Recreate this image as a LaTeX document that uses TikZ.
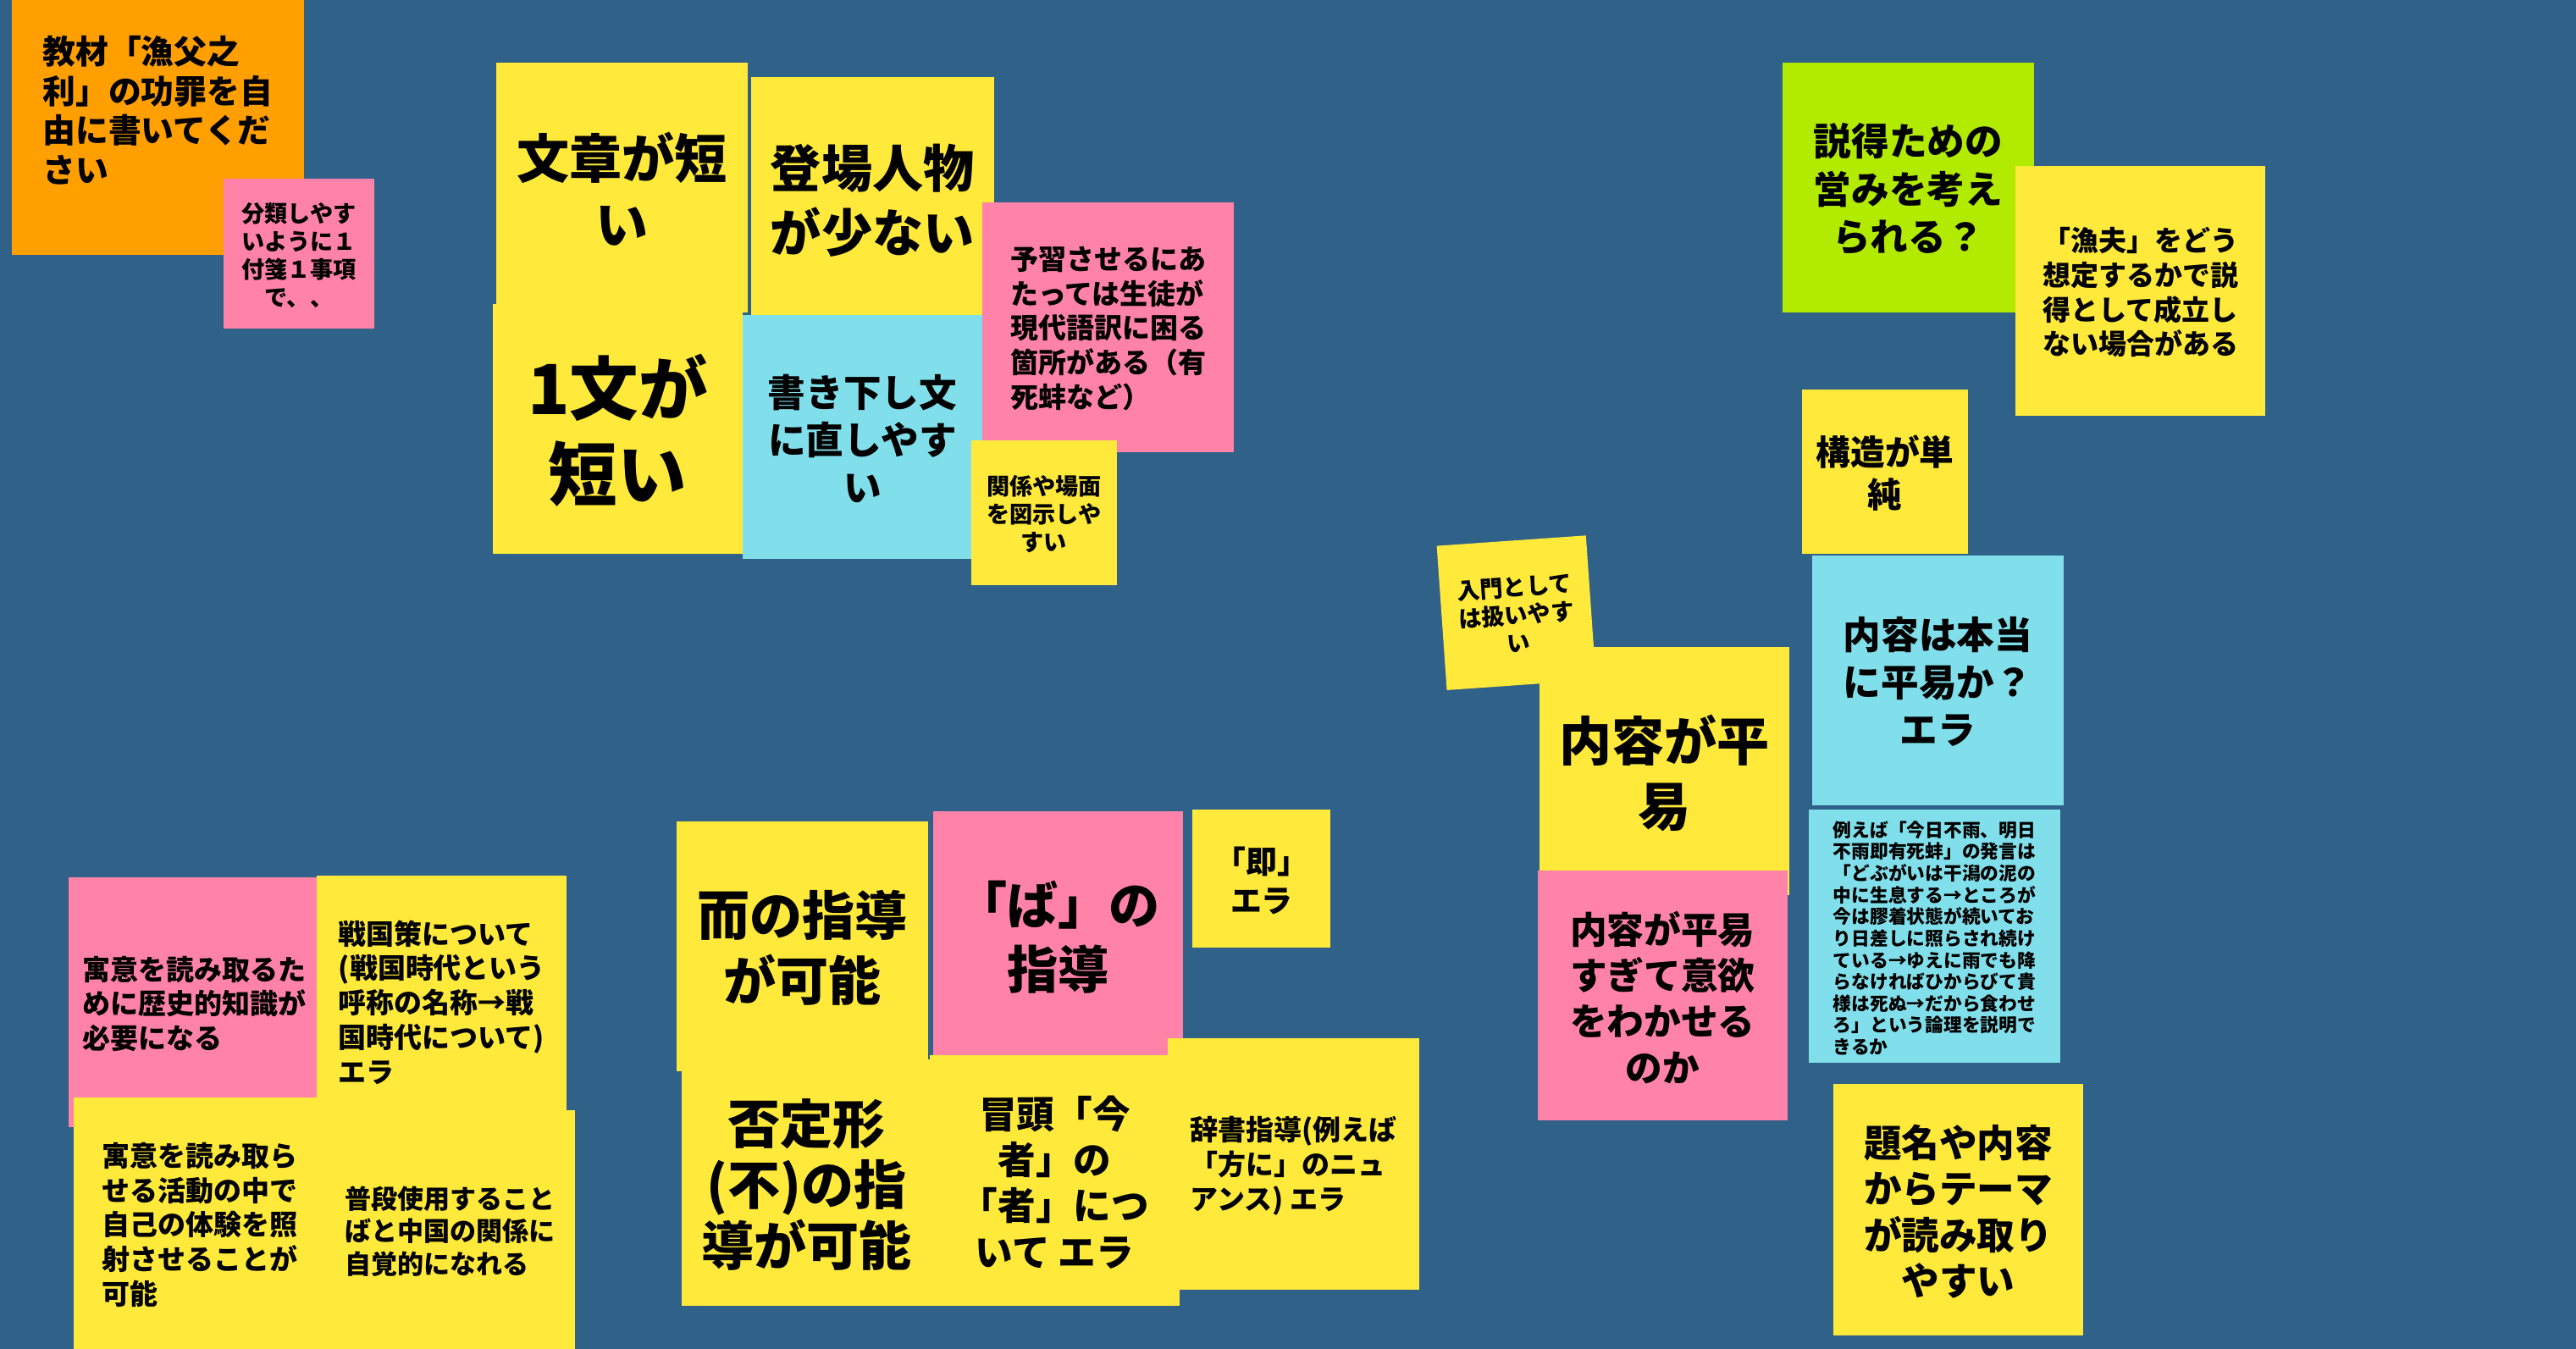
\documentclass[tikz,border=0pt]{standalone}
\usepackage{fontspec}
\setmainfont{Noto Sans CJK JP}
\usetikzlibrary{fit}
\definecolor{board}{HTML}{2F6189}
\definecolor{noteyellow}{HTML}{FFE93B}
\definecolor{notepink}{HTML}{FF82A9}
\definecolor{notecyan}{HTML}{80DFEA}
\definecolor{noteorange}{HTML}{FF9F00}
\definecolor{notegreen}{HTML}{B2EB00}
\newcommand\sz[2]{\fontsize{#1}{#2}\selectfont\bfseries}
% \note{name}{corners}{colour}{font}{align}{text}
\newcommand\note[6]{%
  \node[sticky={#2},fill=#3] (#1) {};
  \node[notetext,font=#4,align=#5] (#1-t) at (#1) {#6};}

\begin{document}
\begin{tikzpicture}[x=1pt,y=-1pt,
  sticky/.style={fit={#1},inner sep=0pt},
  notetext/.style={inner sep=0pt,text=black,yshift=-1pt}]
\fill[board] (0,0) rectangle (1568,821);
\useasboundingbox (0,0) rectangle (1568,821);
% top left
\note{task}{(7,0) (185,155)}{noteorange}{\sz{20}{24}}{left}{教材「漁父之\\利」の功罪を自\\由に書いてくだ\\さい\\\mbox{}}
\note{rule}{(136,109) (228,200)}{notepink}{\sz{14}{17}}{center}{分類しやす\\いように１\\付箋１事項\\で、、}
% short sentences
\note{short}{(302,38) (455,190)}{noteyellow}{\sz{32}{40}}{center}{文章が短\\い}
\note{few}{(457,47) (605,195)}{noteyellow}{\sz{31}{39}}{center}{登場人物\\が少ない}
\note{onesent}{(300,185) (452,337)}{noteyellow}{\sz{42}{52}}{center}{1文が\\短い}
\note{kaki}{(452,192) (598,340)}{notecyan}{\sz{23}{29}}{center}{書き下し文\\に直しやす\\い}
\note{yoshu}{(598,123) (751,275)}{notepink}{\sz{17}{21}}{left}{予習させるにあ\\たっては生徒が\\現代語訳に困る\\箇所がある（有\\死蚌など）}
\note{zushi}{(591,268) (680,356)}{noteyellow}{\sz{14}{17}}{center}{関係や場面\\を図示しや\\すい}
% right column
\note{settoku}{(1085,38) (1238,190)}{notegreen}{\sz{23}{29}}{center}{説得ための\\営みを考え\\られる？}
\note{gyofu}{(1227,101) (1379,253)}{noteyellow}{\sz{17}{21}}{center}{「漁夫」をどう\\想定するかで説\\得として成立し\\ない場合がある}
\note{kozo}{(1097,237) (1198,337)}{noteyellow}{\sz{21}{26}}{center}{構造が単\\純}
\node[fill=noteyellow,minimum width=91pt,minimum height=88pt,inner sep=0pt,rotate=4] at (923,373) (nyumon) {};
\node[notetext,font=\sz{14}{17},align=center,rotate=4] at (nyumon) (nyumon-t) {入門として\\は扱いやす\\い};
\note{honto}{(1103,338) (1256,490)}{notecyan}{\sz{23}{29}}{center}{内容は本当\\に平易か？\\エラ}
\note{heii}{(937,394) (1089,545)}{noteyellow}{\sz{32}{40}}{center}{内容が平\\易}
\note{rei}{(1101,493) (1254,647)}{notecyan}{\sz{11.2}{13.2}}{left}{例えば「今日不雨、明日\\不雨即有死蚌」の発言は\\「どぶがいは干潟の泥の\\中に生息する→ところが\\今は膠着状態が続いてお\\り日差しに照らされ続け\\ている→ゆえに雨でも降\\らなければひからびて貴\\様は死ぬ→だから食わせ\\ろ」という論理を説明で\\きるか}
\note{iyoku}{(936,530) (1088,682)}{notepink}{\sz{22.5}{28}}{center}{内容が平易\\すぎて意欲\\をわかせる\\のか}
\note{theme}{(1116,660) (1268,813)}{noteyellow}{\sz{23}{28}}{center}{題名や内容\\からテーマ\\が読み取り\\やすい}
% grammar
\note{soku}{(726,493) (810,577)}{noteyellow}{\sz{19}{24}}{center}{「即」\\エラ}
\note{ji}{(412,500) (565,652)}{noteyellow}{\sz{32}{40}}{center}{而の指導\\が可能}
\note{ba}{(568,494) (720,645)}{notepink}{\sz{31}{39}}{center}{「ば」の\\指導}
\note{hitei}{(415,645) (567,795)}{noteyellow}{\sz{32}{37}}{center}{否定形\\(不)の指\\導が可能}
\note{bouto}{(566,642) (718,795)}{noteyellow}{\sz{23}{28}}{center}{冒頭「今\\者」の\\「者」につ\\いて エラ}
\note{jisho}{(711,632) (864,785)}{noteyellow}{\sz{17}{21}}{left}{辞書指導(例えば\\「方に」のニュ\\アンス) エラ}
% bottom left
\note{guui}{(42,534) (195,686)}{notepink}{\sz{17}{21}}{left}{寓意を読み取るた\\めに歴史的知識が\\必要になる}
\note{sengoku}{(193,533) (345,685)}{noteyellow}{\sz{17}{21}}{left}{戦国策について\\(戦国時代という\\呼称の名称→戦\\国時代について)\\エラ}
\note{jiko}{(45,668) (198,821)}{noteyellow}{\sz{17}{21}}{left}{寓意を読み取ら\\せる活動の中で\\自己の体験を照\\射させることが\\可能}
\note{fudan}{(198,676) (350,821)}{noteyellow}{\sz{16}{20}}{left}{普段使用すること\\ばと中国の関係に\\自覚的になれる}
\end{tikzpicture}
\end{document}
